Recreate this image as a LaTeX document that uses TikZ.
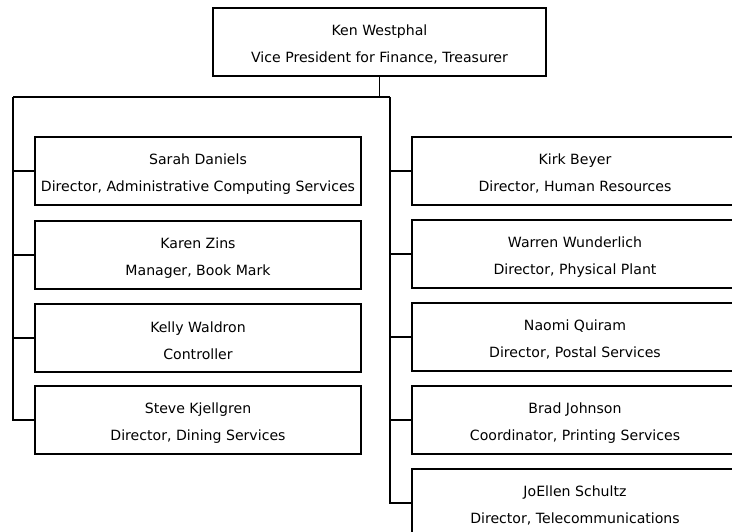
\documentclass[tikz,border=0pt]{standalone}
\usepackage{fontspec}
\setmainfont{DejaVu Sans}
% taller first row so the two text lines sit a little lower in each box
\newcommand\toprow{\rule{0pt}{16.5pt}}
\begin{document}
\begin{tikzpicture}[x=1pt,y=-1pt,
  box/.style={draw, line width=1.4pt, fill=white, minimum height=68pt,
    align=center, inner sep=0pt, font=\fontsize{14.1}{27}\selectfont},
  sub/.style={box, minimum width=326pt},
  conn/.style={line width=1.4pt}]
\clip (0,0) rectangle (732,531);
\fill[white] (0,0) rectangle (732,531);

% head of the division
\node[box, minimum width=333pt] (head) at (379.5,42)
  {\toprow Ken Westphal\\Vice President for Finance, Treasurer};

% left column
\node[sub] (sarah) at (198,171) {\toprow Sarah Daniels\\Director, Administrative Computing Services};
\node[sub] (karen) at (198,255) {\toprow Karen Zins\\Manager, Book Mark};
\node[sub] (kelly) at (198,338) {\toprow Kelly Waldron\\Controller};
\node[sub] (steve) at (198,420) {\toprow Steve Kjellgren\\Director, Dining Services};

% right column
\node[sub] (kirk) at (575,171) {\toprow Kirk Beyer\\Director, Human Resources};
\node[sub] (warren) at (575,254) {\toprow Warren Wunderlich\\Director, Physical Plant};
\node[sub] (naomi) at (575,337) {\toprow Naomi Quiram\\Director, Postal Services};
\node[sub] (brad) at (575,420) {\toprow Brad Johnson\\Coordinator, Printing Services};
\node[sub] (joellen) at (575,503) {\toprow JoEllen Schultz\\Director, Telecommunications};

% bus lines
\coordinate (busL) at (13,97);
\coordinate (busR) at (390,97);
\draw[conn] (head.south) -- (head.south |- busL);
\draw[conn] (busL) -- (busR);
\draw[conn] (busL) |- (steve.west);
\draw[conn] (busR) |- (joellen.west);
\foreach \n in {sarah,karen,kelly}
  \draw[conn] (\n.west) -- (busL |- \n.west);
\foreach \n in {kirk,warren,naomi,brad}
  \draw[conn] (\n.west) -- (busR |- \n.west);
\end{tikzpicture}
\end{document}
